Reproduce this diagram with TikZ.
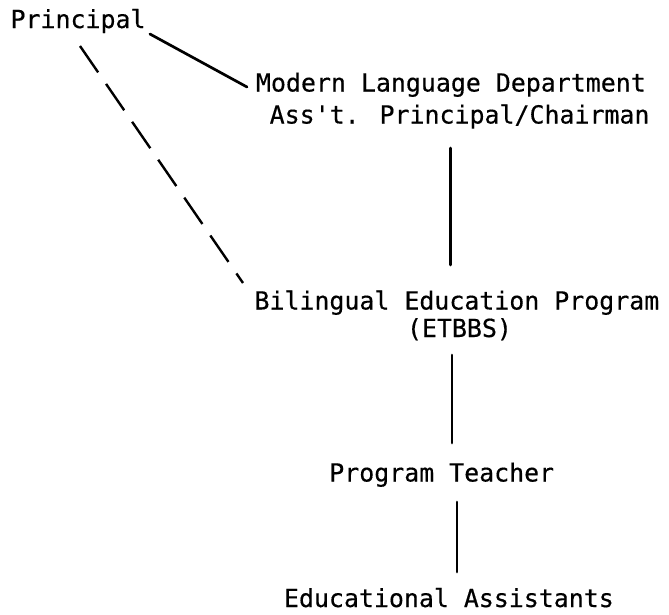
\documentclass[tikz,border=0pt]{standalone}
\usepackage{fontspec}
\newfontfamily\chartfont[FakeBold=0.4]{DejaVu Sans Mono}
\begin{document}
\begin{tikzpicture}[x=1pt,y=-1pt,
  label text/.style={font=\chartfont\fontsize{24.9}{30}\selectfont,
    inner sep=0pt, outer sep=0pt, anchor=base west},
  link/.style={line width=2.7pt, line cap=round},
  dashed link/.style={line width=2.4pt, dash pattern=on 32pt off 14pt}]
\useasboundingbox (0,0) rectangle (669,614);

% organisation chart entries, one node per printed line
\node[label text] (principal) at (10.6,28)  {Principal};
\node[label text] (modern)    at (256,91.5) {Modern Language Department};
\node[label text] (asst)      at (269.7,123.5) {Ass't. Principal/Chairman};
\node[label text] (bil)       at (254.5,309.5) {Bilingual Education Program};
\node[label text] (etbbs)     at (407,337)  {(ETBBS)};
\node[label text] (teacher)   at (329.3,481.5) {Program Teacher};
\node[label text] (edu)       at (284,607)  {Educational Assistants};

% ends of the vertical links, just below and above the entries
\coordinate (asst-out)    at ([shift={(-9,24.5)}]asst.base);
\coordinate (bil-in)      at ([shift={(-9,-44.5)}]bil.base);
\coordinate (etbbs-out)   at ([shift={(-7.5,18)}]etbbs.base);
\coordinate (teacher-in)  at ([shift={(10.2,-38.5)}]teacher.base);
\coordinate (teacher-out) at ([shift={(15.2,20.5)}]teacher.base);
\coordinate (edu-in)      at ([shift={(8,-35)}]edu.base);

% line of authority
\draw[link] ([shift={(4.4,6)}]principal.base east) -- ([shift={(-9,-4.5)}]modern.base west);
\draw[link] (asst-out) -- (asst-out |- bil-in);
\draw[link] (etbbs-out) -- (etbbs-out |- teacher-in);
\draw[link] (teacher-out) -- (teacher-out |- edu-in);

% direct but informal link
\draw[dashed link] ([shift={(69.4,18)}]principal.base west) -- ([shift={(-11.5,-26.5)}]bil.base west);
\end{tikzpicture}
\end{document}
